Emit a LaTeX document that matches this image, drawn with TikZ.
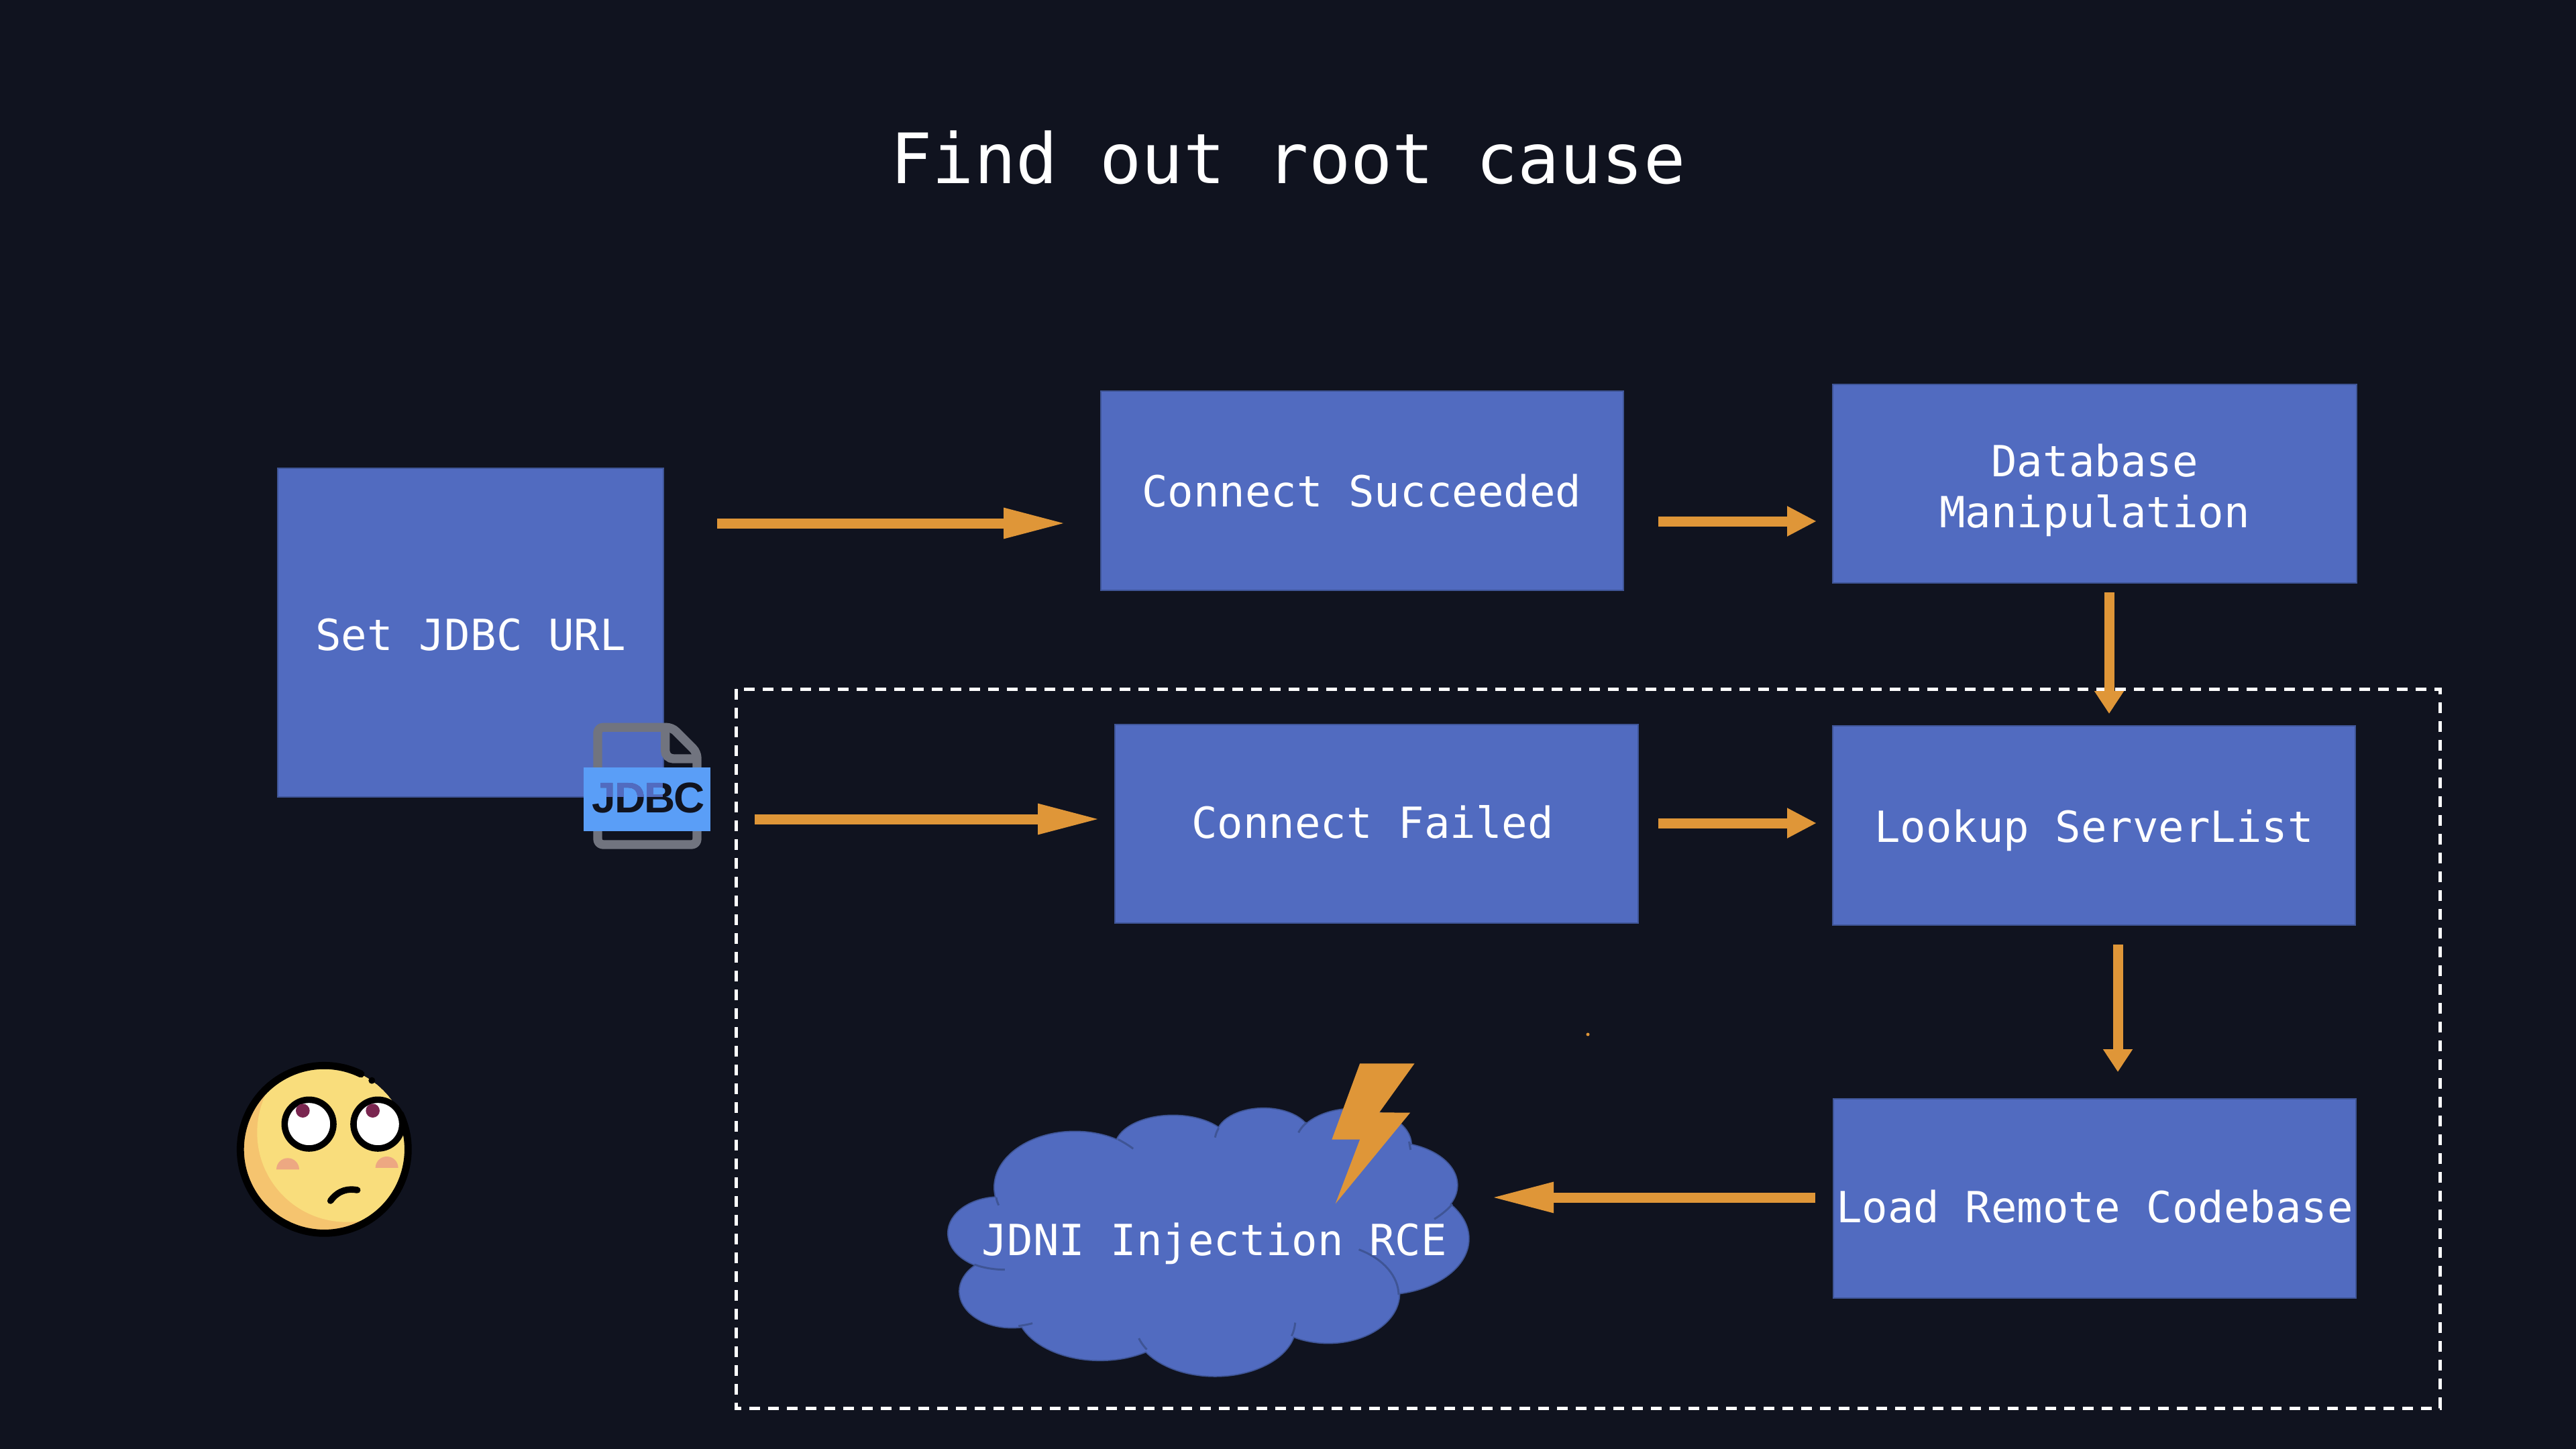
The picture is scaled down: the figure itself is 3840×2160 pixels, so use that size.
\documentclass[tikz,border=0pt]{standalone}
\usepackage{fontspec}
\setmonofont{DejaVu Sans Mono}
\newfontfamily\iconfont{Liberation Sans}[LetterSpace=-3.5]
\usetikzlibrary{arrows.meta}
\definecolor{bg}{HTML}{10131F}
\definecolor{boxblue}{HTML}{516BC0}
\definecolor{boxedge}{HTML}{3F5596}
\definecolor{flow}{HTML}{DF9638}
\definecolor{pagegrey}{HTML}{71747F}
\definecolor{banner}{HTML}{5A9EF7}
\definecolor{skin}{HTML}{F9DD7C}
\definecolor{skinshade}{HTML}{F5C46F}
\definecolor{cheek}{HTML}{EDA882}
\definecolor{iris}{HTML}{7A2650}
\newcommand{\nudged}[2]{\raisebox{#1}[\height][\depth]{#2}}
\tikzset{
  bluebox/.style={draw=boxedge,fill=boxblue,line width=.6pt,text=white,align=center,inner sep=0pt,outer sep=0pt,
    font=\ttfamily\fontsize{16}{19}\selectfont},
  flowline/.style={draw=flow,line width=3.75pt},
  headlong/.style={-{Triangle[length=23.5pt,width=10.5pt]}},
  headmid/.style={-{Triangle[length=11pt,width=10.5pt]}},
  headshort/.style={-{Triangle[length=8.5pt,width=10.5pt]}},
  frameline/.style={draw=white,line width=1.25pt,dash pattern=on 4pt off 3pt},
  emojistroke/.style={draw=black,line width=2.4pt,line cap=round},
}
\begin{document}
\begin{tikzpicture}[x=.25pt,y=-.25pt]
\useasboundingbox (0,0) rectangle (3840,2160);
\fill[bg] (0,0) rectangle (3840,2160);

\node[text=white,font=\ttfamily\fontsize{25.9}{30}\selectfont] (title) at (1920,235) {Find out root cause};

\draw[frameline] (1097,1027) rectangle (3637,2099);

\node[bluebox,minimum width=143.75pt,minimum height=122.5pt] (setjdbc) at (701.5,943) {\nudged{-.9pt}{Set JDBC URL}};
\node[bluebox,minimum width=194.75pt,minimum height=74.25pt] (succ) at (2030.5,731.5) {\hspace*{-.4pt}Connect Succeeded};
\node[bluebox,minimum width=195.25pt,minimum height=74pt] (db) at (3122.5,721) {\nudged{-2.5pt}{Database}\\\nudged{-2.5pt}{Manipulation}};
\node[bluebox,minimum width=195pt,minimum height=74pt] (fail) at (2052,1228) {\nudged{.6pt}{\hspace*{-3pt}Connect Failed}};
\node[bluebox,minimum width=194.75pt,minimum height=74.25pt] (look) at (3121.5,1230.5) {\nudged{-1.75pt}{Lookup ServerList}};
\node[bluebox,minimum width=194.75pt,minimum height=74.25pt] (load) at (3122.5,1786.5) {\nudged{-3pt}{Load Remote Codebase}};

% cloud
\begin{scope}[shift={(1380,1560)},xscale=.5357,yscale=.3333]
  \def\bumps{415/630/223/248,688/450/160/140,940/400/130/122,1190/440/160/160,1290/620/188/190,1270/860/240/248,1120/1105/197/220,805/1250/223/223,485/1170/232/232,240/1095/145/161,205/835/142/160}
  \foreach \cx/\cy/\rx/\ry in \bumps
    \draw[boxedge,line width=.9pt] (\cx,\cy) ellipse [x radius=\rx,y radius=\ry];
  \foreach \cx/\cy/\rx/\ry in \bumps
    \fill[boxblue] (\cx,\cy) ellipse [x radius=\rx,y radius=\ry];
  \fill[boxblue] (300,500) -- (800,400) -- (1250,450) -- (1400,800) -- (1200,1100) -- (800,1300) -- (300,1150) -- (150,850) -- cycle;
  \begin{scope}[draw=boxedge,line width=.75pt]
    \draw (535,415) .. controls (550,428) and (565,442) .. (577,457);
    \draw (815,365) .. controls (810,378) and (807,392) .. (805,407);
    \draw (1060,340) .. controls (1050,353) and (1043,368) .. (1037,385);
    \draw (1345,425) -- (1349,462);
    \draw (1465,705) .. controls (1452,730) and (1435,752) .. (1415,772);
    \draw (1205,908) .. controls (1275,950) and (1315,1030) .. (1316,1110);
    \draw (1028,1235) .. controls (1027,1255) and (1024,1275) .. (1018,1295);
    \draw (593,1305) .. controls (598,1322) and (606,1340) .. (615,1355);
    \draw (297,1238) .. controls (285,1243) and (272,1247) .. (258,1250);
    \draw (135,975) .. controls (160,990) and (190,998) .. (220,998);
    \draw (196,675) .. controls (197,688) and (200,700) .. (203,710);
  \end{scope}
  \fill[flow] (1208,76) -- (1360,76) -- (1262,295) -- (1348,296) -- (1140,703) -- (1208,416) -- (1130,416) -- cycle;
\end{scope}
\node[text=white,inner sep=0pt,font=\ttfamily\fontsize{16}{19}\selectfont] (jdni) at (1810,1854) {JDNI Injection RCE};
\coordinate (cloudport) at (2222,1785);

% connectors
\draw[flowline,headlong] ([shift={(80,-163)}]setjdbc.east) -- ([shift={(-51,48.5)}]succ.west);
\draw[flowline,headmid] ([shift={(52,45.5)}]succ.east) -- ([shift={(-24,56)}]db.west);
\draw[flowline,headshort] ([shift={(21.5,14)}]db.south) -- ([shift={(22.5,-18)}]look.north);
\draw[flowline,headlong] ([shift={(136,278)}]setjdbc.east) -- ([shift={(-21,-7)}]fail.west);
\draw[flowline,headmid] ([shift={(30,-1)}]fail.east) -- ([shift={(-24,-3.5)}]look.west);
\draw[flowline,headshort] ([shift={(35.5,29)}]look.south) -- ([shift={(34.5,-40)}]load.north);
\draw[flowline,headlong] ([shift={(-27,-1.5)}]load.west) -- (cloudport);

\fill[flow] (2367,1542) circle (2.5);

% JDBC file icon
\begin{scope}[shift={(820,1020)},xscale=.3333,yscale=.3333]
  \draw[pagegrey,line width=3.33pt,line join=round,rounded corners=2pt]
    (213,193) -- (545,193) -- (657,305) -- (657,717) -- (213,717) -- cycle;
  \draw[pagegrey,line width=3.33pt,rounded corners=3pt] (515,193) -- (515,333) -- (657,333);
  \fill[banner] (151,373) rectangle (718,656);
  \node[text=bg,inner sep=0pt,font=\iconfont\bfseries\fontsize{16}{16}\selectfont] (jdbcmark) at (440,507) {JDBC};
  \fill[boxblue,blend mode=lighten] (151,373) rectangle (505,503.5);
\end{scope}

% emoji
\begin{scope}[shift={(320,1550)},xscale=.3333,yscale=.3333]
  \begin{scope}
    \clip (490,490) circle (373);
    \fill[skinshade] (490,490) circle (373);
    \fill[skin] (590,415) circle (400);
  \end{scope}
  \draw[emojistroke,line width=2.7pt] (490,490) ++(-25:375) arc [start angle=-25,end angle=296,radius=375];
  \fill[black] (703,182) circle (15);
  \foreach \ex/\px in {422/394,730/707}{
    \draw[draw=black,fill=white,line width=2.4pt] (\ex,377) circle (109);
    \fill[iris] (\px,317) circle (31);
  }
  \fill[cheek] (276,580) arc [start angle=180,end angle=360,radius=51] -- cycle;
  \fill[cheek] (719,573) arc [start angle=180,end angle=360,radius=51] -- cycle;
  \draw[emojistroke] (518,720) .. controls (555,670) and (600,665) .. (638,672);
\end{scope}
\end{tikzpicture}
\end{document}
